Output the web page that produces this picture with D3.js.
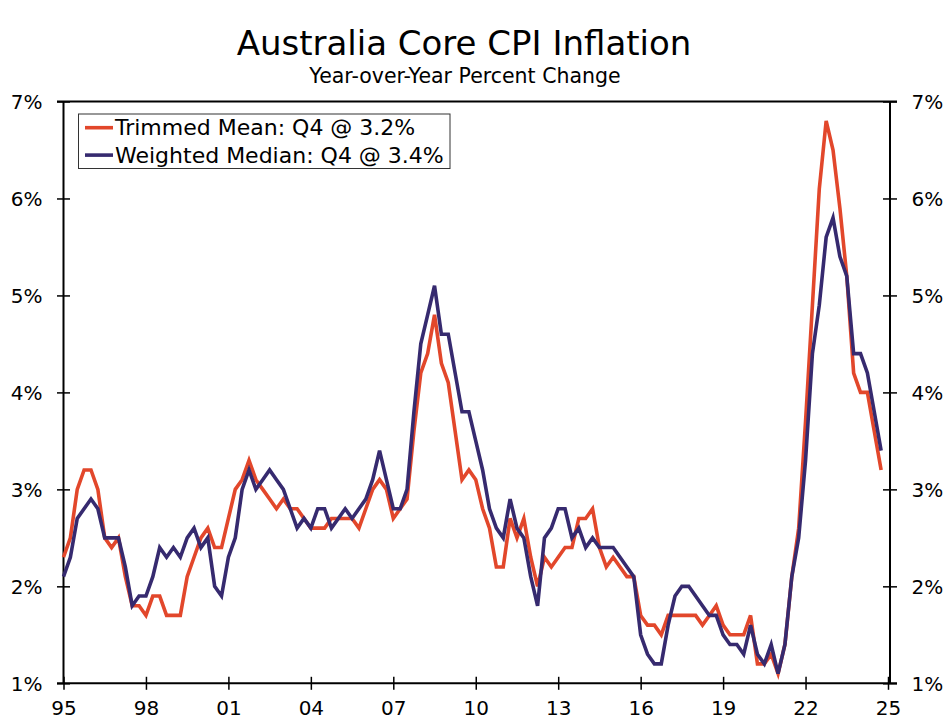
<!DOCTYPE html>
<html lang="en">
<head>
    <meta charset="utf-8">
    <title>Australia Core CPI Inflation</title>
    <script type="text/javascript" src="https://cdn.jsdelivr.net/npm/d3@7"></script>
    <style>
        body { margin: 0; background: #fff; }
        text { font-family: "DejaVu Sans", Verdana, sans-serif; fill: #000; }
    </style>
</head>
<body>
<script type="text/javascript">
    // quarterly, 1995 Q1 to 2024 Q4, year-over-year % change
    var firstYear = 1995;
    var trimmedMean = [
        2.3, 2.5, 3.0, 3.2,  3.2, 3.0, 2.5, 2.4,  2.5, 2.1, 1.8, 1.8,  1.7, 1.9, 1.9, 1.7,
        1.7, 1.7, 2.1, 2.3,  2.5, 2.6, 2.4, 2.4,  2.7, 3.0, 3.1, 3.3,  3.1, 3.0, 2.9, 2.8,
        2.9, 2.8, 2.8, 2.7,  2.6, 2.6, 2.6, 2.7,  2.7, 2.7, 2.7, 2.6,  2.8, 3.0, 3.1, 3.0,
        2.7, 2.8, 2.9, 3.6,  4.2, 4.4, 4.8, 4.3,  4.1, 3.6, 3.1, 3.2,  3.1, 2.8, 2.6, 2.2,
        2.2, 2.7, 2.5, 2.7,  2.3, 2.0, 2.3, 2.2,  2.3, 2.4, 2.4, 2.7,  2.7, 2.8, 2.4, 2.2,
        2.3, 2.2, 2.1, 2.1,  1.7, 1.6, 1.6, 1.5,  1.7, 1.7, 1.7, 1.7,  1.7, 1.6, 1.7, 1.8,
        1.6, 1.5, 1.5, 1.5,  1.7, 1.2, 1.2, 1.3,  1.1, 1.4, 2.1, 2.6,  3.7, 4.9, 6.1, 6.8,
        6.5, 5.9, 5.2, 4.2,  4.0, 4.0, 3.6, 3.2
    ];
    var weightedMedian = [
        2.1, 2.3, 2.7, 2.8,  2.9, 2.8, 2.5, 2.5,  2.5, 2.2, 1.8, 1.9,  1.9, 2.1, 2.4, 2.3,
        2.4, 2.3, 2.5, 2.6,  2.4, 2.5, 2.0, 1.9,  2.3, 2.5, 3.0, 3.2,  3.0, 3.1, 3.2, 3.1,
        3.0, 2.8, 2.6, 2.7,  2.6, 2.8, 2.8, 2.6,  2.7, 2.8, 2.7, 2.8,  2.9, 3.1, 3.4, 3.1,
        2.8, 2.8, 3.0, 3.8,  4.5, 4.8, 5.1, 4.6,  4.6, 4.2, 3.8, 3.8,  3.5, 3.2, 2.8, 2.6,
        2.5, 2.9, 2.6, 2.5,  2.1, 1.8, 2.5, 2.6,  2.8, 2.8, 2.5, 2.6,  2.4, 2.5, 2.4, 2.4,
        2.4, 2.3, 2.2, 2.1,  1.5, 1.3, 1.2, 1.2,  1.6, 1.9, 2.0, 2.0,  1.9, 1.8, 1.7, 1.7,
        1.5, 1.4, 1.4, 1.3,  1.6, 1.3, 1.2, 1.4,  1.1, 1.4, 2.1, 2.5,  3.3, 4.4, 4.9, 5.6,
        5.8, 5.4, 5.2, 4.4,  4.4, 4.2, 3.8, 3.4
    ];
    var seriesNames = ["Trimmed Mean: Q4 @ 3.2%", "Weighted Median: Q4 @ 3.4%"];
    var seriesColors = ["#E2472B", "#362A6F"];
    var yTicks = [1, 2, 3, 4, 5, 6, 7];
    var xTicks = [1995, 1998, 2001, 2004, 2007, 2010, 2013, 2016, 2019, 2022, 2025];

    chart();

    function chart() {
        var width = 949;
        var height = 727;
        var left = 63.5, right = 888, frameRight = 890;
        var top = 101.5, bottom = 683.3;

        var svg = d3.select("body").append("svg").attr("width", width).attr("height", height);

        svg.append("text").text("Australia Core CPI Inflation").attr("x", 464).attr("y", 55)
            .attr("font-size", "34px").attr("text-anchor", "middle");
        svg.append("text").text("Year-over-Year Percent Change").attr("x", 465).attr("y", 83)
            .attr("font-size", "20.5px").attr("text-anchor", "middle");

        var x = d3.scaleLinear().domain([1995, 2025]).range([left, right]);
        var y = d3.scaleLinear().domain([1, 7]).range([bottom, top]);

        // frame
        svg.append("line").attr("x1", left - 6.5).attr("x2", frameRight + 7).attr("y1", top).attr("y2", top)
            .attr("stroke", "#000").attr("stroke-width", 1.8);

        var yLeft = d3.axisLeft(y).tickValues(yTicks).tickSize(6.5).tickFormat(function (d) { return d + "%"; });
        var gl = svg.append("g").attr("transform", "translate(" + left + ",0)").call(yLeft);
        var yRight = d3.axisRight(y).tickValues(yTicks).tickSize(7).tickFormat(function (d) { return d + "%"; });
        var gr = svg.append("g").attr("transform", "translate(" + frameRight + ",0)").call(yRight);
        var xAxis = d3.axisBottom(x).tickValues(xTicks).tickSize(6.5).tickFormat(function (d) { return d3.format("02")(d % 100); });
        var gb = svg.append("g").attr("transform", "translate(0," + bottom + ")").call(xAxis);

        gl.selectAll(".tick line").attr("x1", 6.5);
        gr.selectAll(".tick line").attr("x1", -7);
        gb.selectAll(".tick line").attr("y1", -6.5);
        [gl, gr, gb].forEach(function (g) {
            g.select(".domain").attr("stroke-width", 2);
            g.selectAll(".tick line").attr("stroke-width", 1.5);
            g.selectAll(".tick text").attr("font-size", "20px").attr("font-family", "DejaVu Sans, Verdana, sans-serif").attr("fill", "#000");
        });
        gl.select(".domain").attr("d", "M0," + top + "V" + bottom);
        gr.select(".domain").attr("d", "M0," + top + "V" + bottom);
        gb.select(".domain").attr("d", "M" + (left - 6.5) + ",0H" + (frameRight + 7));
        gl.selectAll(".tick text").attr("x", -21).attr("dy", "0.36em");
        gr.selectAll(".tick text").attr("x", 21.5).attr("dy", "0.36em");
        gb.selectAll(".tick text").attr("y", 18).attr("dy", "0.71em");

        var line = d3.line().x(function (d, i) { return x(firstYear + i / 4); }).y(function (d) { return y(d); });
        [trimmedMean, weightedMedian].forEach(function (s, k) {
            svg.append("path").attr("d", line(s)).attr("fill", "none").attr("stroke", seriesColors[k])
                .attr("stroke-width", 3.6).attr("stroke-linejoin", "miter");
        });

        // legend
        var lg = svg.append("g");
        lg.append("rect").attr("x", 78.5).attr("y", 114).attr("width", 371.5).attr("height", 54.5)
            .attr("fill", "#fff").attr("stroke", "#333").attr("stroke-width", 1);
        seriesNames.forEach(function (name, k) {
            var ly = 127.7 + k * 27.4;
            lg.append("line").attr("x1", 85).attr("x2", 113).attr("y1", ly).attr("y2", ly)
                .attr("stroke", seriesColors[k]).attr("stroke-width", 3.6);
            lg.append("text").text(name).attr("x", 115).attr("y", ly + 7.5).attr("font-size", "22px");
        });
    }
</script>
</body>
</html>
